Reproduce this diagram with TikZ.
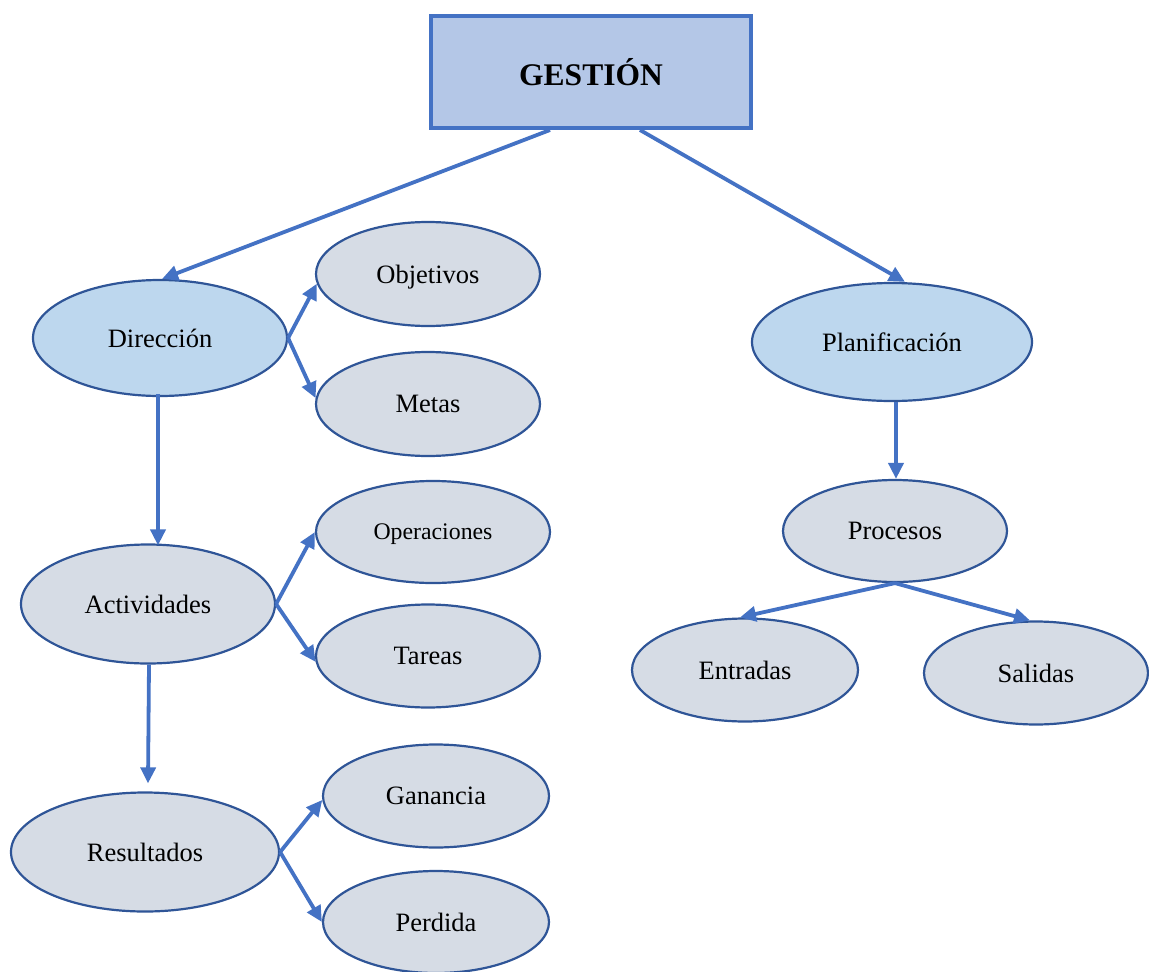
\documentclass[tikz,border=0pt]{standalone}
\usepackage{fontspec}
\setmainfont{Liberation Serif}
\usetikzlibrary{arrows.meta}
\definecolor{boxfill}{HTML}{B4C7E7}
\definecolor{boxline}{HTML}{4472C4}
\definecolor{mainfill}{HTML}{BDD7EE}
\definecolor{subfill}{HTML}{D6DCE5}
\definecolor{elline}{HTML}{2F5597}
\tikzset{
  topbox/.style={draw=boxline, line width=4pt, fill=boxfill, minimum width=320pt, minimum height=112pt, inner sep=0pt, text depth=0pt, font=\fontsize{31.5}{36}\selectfont\bfseries},
  mainell/.style={ellipse, draw=elline, line width=2.2pt, fill=mainfill, inner sep=0pt, text depth=0pt, font=\fontsize{26.5}{30}\selectfont},
  subell/.style={ellipse, draw=elline, line width=2.2pt, fill=subfill, inner sep=0pt, text depth=0pt, font=\fontsize{26.5}{30}\selectfont},
  conn/.style={draw=boxline, line width=3.8pt, -{Triangle[length=16pt,width=15pt]}}
}
\usetikzlibrary{shapes.geometric}
\begin{document}
\begin{tikzpicture}[x=1pt,y=-1pt]
\useasboundingbox (0,0) rectangle (1149,972);
\node[topbox] (gest) at (591,72) {GESTIÓN};
\node[mainell, minimum width=254pt, minimum height=116pt] (dir) at (160,338) {Dirección};
\node[mainell, minimum width=280pt, minimum height=118pt] (pla) at (892,342) {Planificación};
\node[subell, minimum width=224pt, minimum height=104pt] (obj) at (428,274) {Objetivos};
\node[subell, minimum width=224pt, minimum height=104pt] (met) at (428,404) {Metas};
\node[subell, minimum width=254pt, minimum height=119pt] (act) at (148,604) {Actividades};
\node[subell, minimum width=234pt, minimum height=102pt, font=\fontsize{23.8}{28}\selectfont] (ope) at (433,532) {Operaciones};
\node[subell, minimum width=224pt, minimum height=103pt] (tar) at (428,656) {Tareas};
\node[subell, minimum width=268pt, minimum height=119pt] (res) at (145,852) {Resultados};
\node[subell, minimum width=226pt, minimum height=103pt] (gan) at (436,796) {Ganancia};
\node[subell, minimum width=226pt, minimum height=102pt] (per) at (436,922) {Perdida};
\node[subell, minimum width=224pt, minimum height=102pt] (pro) at (895,531) {Procesos};
\node[subell, minimum width=226pt, minimum height=103pt] (ent) at (745,670) {Entradas};
\node[subell, minimum width=224pt, minimum height=103pt] (sal) at (1036,673) {Salidas};

\draw[conn] ([xshift=-41pt]gest.south) -- (dir.88);
\draw[conn] ([xshift=49pt]gest.south) -- ([xshift=13pt]pla.north);
\draw[conn] (dir.east) -- (obj.185);
\draw[conn] (dir.east) -- (met.177);
\draw[conn] ([xshift=-2pt,yshift=3pt]dir.south) -- ([xshift=10pt,yshift=-2pt]act.north);
\draw[conn] (act.east) -- (ope.west);
\draw[conn] (act.east) -- (tar.183);
\draw[conn] ([xshift=1pt]act.south) -- ([xshift=3pt,yshift=8pt]res.north);
\draw[conn] (res.east) -- (gan.182);
\draw[conn] (res.east) -- (per.west);
\draw[conn] ([xshift=4pt]pla.south) -- ([xshift=1pt]pro.north);
\draw[conn] (pro.south) -- ([xshift=-5pt]ent.north);
\draw[conn] (pro.south) -- ([xshift=-6pt]sal.north);
\end{tikzpicture}
\end{document}
